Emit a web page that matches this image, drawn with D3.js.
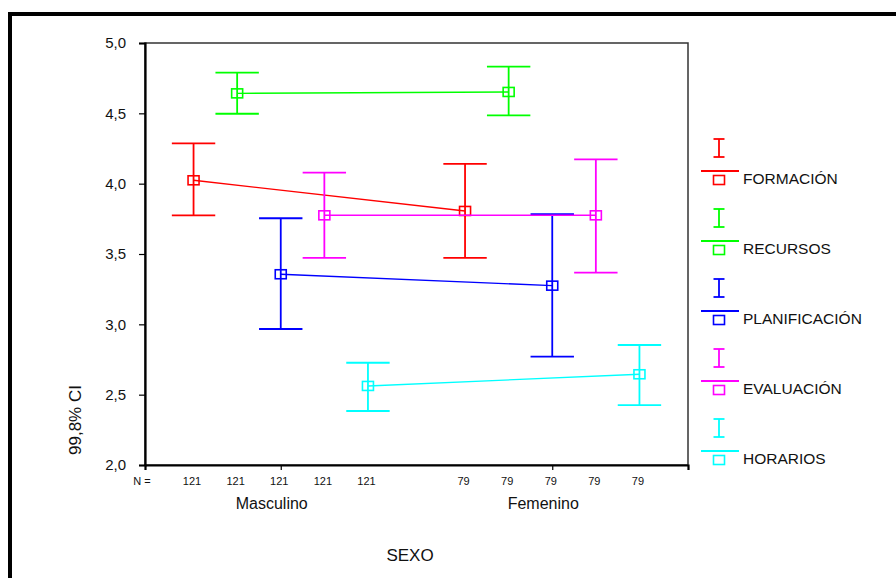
<!DOCTYPE html>
<html>
<head>
<meta charset="utf-8">
<script src="https://cdn.jsdelivr.net/npm/d3@7"></script>
<style>
  html, body { margin: 0; padding: 0; background: #fff; }
  svg { display: block; font-family: "Liberation Sans", Arial, sans-serif; }
</style>
</head>
<body>
<svg id="chart" width="896" height="578"></svg>
<script>
// ---------- data ----------
const categories = ["Masculino", "Femenino"];
const nCounts = [121, 79];
const seriesNames = ["FORMACIÓN", "RECURSOS", "PLANIFICACIÓN", "EVALUACIÓN", "HORARIOS"];
const seriesColors = ["#ff0000", "#00ff00", "#0000ff", "#ff00ff", "#00ffff"];
const meanMasc = [4.024, 4.642, 3.356, 3.775, 2.562];
const lowMasc  = [3.775, 4.497, 2.967, 3.472, 2.384];
const highMasc = [4.287, 4.789, 3.754, 4.078, 2.727];
const meanFem  = [3.806, 4.652, 3.275, 3.775, 2.645];
const lowFem   = [3.472, 4.486, 2.770, 3.367, 2.425];
const highFem  = [4.140, 4.832, 3.784, 4.173, 2.853];
const yTicks = [2.0, 2.5, 3.0, 3.5, 4.0, 4.5, 5.0];
const yLabel = "99,8% CI";
const xLabel = "SEXO";

// ---------- layout ----------
const svg = d3.select("#chart");
const L = 145, R = 688, T = 43, B = 465;

const x = d3.scalePoint().domain(categories).range([L, R]).padding(0.5);
const off = d3.scalePoint().domain(seriesNames).range([-87.2, 87.2]);
const y = d3.scaleLinear().domain([2, 5]).range([B, T]);
const capHalf = 21.7;
const fmt = d => d.toFixed(1).replace(".", ",");

// outer frame (top and left thick lines)
svg.append("line").attr("x1", 8).attr("x2", 896).attr("y1", 14).attr("y2", 14)
  .attr("stroke", "#000").attr("stroke-width", 4);
svg.append("line").attr("x1", 10).attr("x2", 10).attr("y1", 12).attr("y2", 578)
  .attr("stroke", "#000").attr("stroke-width", 4);

// plot frame
svg.append("rect").attr("x", L).attr("y", T).attr("width", R - L).attr("height", B - T)
  .attr("fill", "none").attr("stroke", "#333").attr("stroke-width", 1.5);

// y axis
const yAxis = d3.axisLeft(y).tickValues(yTicks).tickFormat(fmt).tickSize(6).tickPadding(13);
const gy = svg.append("g").attr("transform", `translate(${L},0)`).call(yAxis);
gy.select(".domain").attr("stroke", "#000").attr("stroke-width", 2.2);
gy.selectAll(".tick line").attr("stroke", "#000").attr("stroke-width", 1.2);
gy.selectAll(".tick text").attr("font-size", 15).attr("fill", "#111")
  .attr("font-family", "Liberation Sans, Arial, sans-serif");

// x axis
const xAxis = d3.axisBottom(x).tickSize(5).tickFormat("");
const gx = svg.append("g").attr("transform", `translate(0,${B})`).call(xAxis);
gx.select(".domain").attr("stroke", "#000").attr("stroke-width", 2.2);
gx.selectAll(".tick line").attr("stroke", "#000").attr("stroke-width", 1.2);

// category labels
svg.selectAll("text.cat").data(categories).join("text").attr("class", "cat")
  .attr("x", d => x(d) - 9).attr("y", 509)
  .attr("text-anchor", "middle").attr("font-size", 16).attr("fill", "#111")
  .text(d => d);

// N row
svg.append("text").attr("x", 142).attr("y", 484.5).attr("text-anchor", "middle")
  .attr("font-size", 11).attr("fill", "#111").text("N =");
categories.forEach((c, ci) => {
  seriesNames.forEach(s => {
    svg.append("text").attr("x", x(c) + off(s) - 1.5).attr("y", 484.5)
      .attr("text-anchor", "middle").attr("font-size", 11).attr("fill", "#111")
      .text(nCounts[ci]);
  });
});

// axis titles
svg.append("text").attr("x", 410).attr("y", 561).attr("text-anchor", "middle")
  .attr("font-size", 17).attr("fill", "#111").text(xLabel);
svg.append("text").attr("transform", "translate(75,420) rotate(-90)")
  .attr("text-anchor", "middle").attr("dominant-baseline", "central")
  .attr("font-size", 17).attr("fill", "#111").text(yLabel);

// ---------- series ----------
const series = seriesNames.map((name, i) => ({
  name, color: seriesColors[i],
  pts: [
    { cat: categories[0], mean: meanMasc[i], lo: lowMasc[i], hi: highMasc[i] },
    { cat: categories[1], mean: meanFem[i], lo: lowFem[i], hi: highFem[i] }
  ]
}));

const plot = svg.append("g");
series.forEach(s => {
  const g = plot.append("g");
  const px = p => x(p.cat) + off(s.name);
  // connecting line
  g.append("path")
    .attr("d", d3.line().x(px).y(p => y(p.mean))(s.pts))
    .attr("fill", "none").attr("stroke", s.color).attr("stroke-width", 1.4);
  s.pts.forEach(p => {
    const cx = px(p);
    g.append("line").attr("x1", cx).attr("x2", cx).attr("y1", y(p.hi)).attr("y2", y(p.lo))
      .attr("stroke", s.color).attr("stroke-width", 1.8);
    [p.hi, p.lo].forEach(v => {
      g.append("line").attr("x1", cx - capHalf).attr("x2", cx + capHalf)
        .attr("y1", y(v)).attr("y2", y(v))
        .attr("stroke", s.color).attr("stroke-width", 1.8);
    });
    g.append("rect").attr("x", cx - 5.5).attr("y", y(p.mean) - 4.5)
      .attr("width", 11).attr("height", 9)
      .attr("fill", "none").attr("stroke", s.color).attr("stroke-width", 1.6);
  });
});

// ---------- legend ----------
const leg = svg.append("g");
seriesNames.forEach((name, i) => {
  const oy = i * 70;
  const c = seriesColors[i];
  const g = leg.append("g").attr("transform", `translate(0,${oy})`);
  g.append("line").attr("x1", 719).attr("x2", 719).attr("y1", 139).attr("y2", 157)
    .attr("stroke", c).attr("stroke-width", 1.8);
  [139, 157].forEach(yy => g.append("line").attr("x1", 713.5).attr("x2", 724.5)
    .attr("y1", yy).attr("y2", yy).attr("stroke", c).attr("stroke-width", 1.8));
  g.append("line").attr("x1", 701).attr("x2", 739).attr("y1", 171).attr("y2", 171)
    .attr("stroke", c).attr("stroke-width", 1.8);
  g.append("rect").attr("x", 713.5).attr("y", 175.5).attr("width", 11).attr("height", 9)
    .attr("fill", "none").attr("stroke", c).attr("stroke-width", 1.6);
  g.append("text").attr("x", 743).attr("y", 184).attr("font-size", 15.5).attr("fill", "#111")
    .text(name);
});
</script>
</body>
</html>
